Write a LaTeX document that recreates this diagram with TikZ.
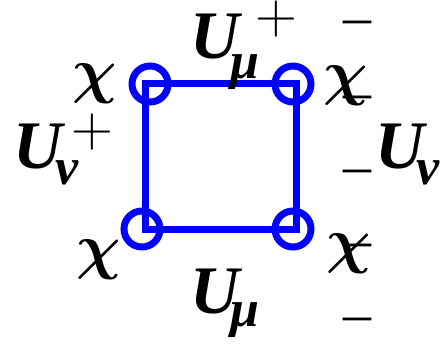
\documentclass[tikz,border=0pt]{standalone}
\usepackage{fix-cm}
\usepackage{fontspec}
\setmainfont{Liberation Serif}

\begin{document}
\begin{tikzpicture}[x=1pt,y=-1pt,
  link/.style={draw=blue,line width=7pt,line join=miter},
  site/.style={circle,draw=blue,line width=7pt,minimum size=36pt,inner sep=0pt},
  bigU/.style={inner sep=0pt,font=\fontsize{68}{68}\selectfont\bfseries\itshape},
  idx/.style={inner sep=0pt,font=\fontsize{52}{52}\selectfont\bfseries\itshape},
  chi/.style={inner sep=0pt,font=\fontsize{62}{62}\selectfont\boldmath},
  sgn/.style={inner sep=0pt,font=\fontsize{58}{58}\selectfont},
  dsh/.style={inner sep=0pt,font=\fontsize{56}{56}\selectfont}]
  \useasboundingbox (0,0) rectangle (444,343);

  % corners of the plaquette
  \coordinate (tl) at (145,83);
  \coordinate (tr) at (296,83);
  \coordinate (br) at (296,229);
  \coordinate (bl) at (145,229);
  \draw[link] (tl) -- (tr) -- (br) -- (bl) -- cycle;

  \node[site] (stl) at (150,84) {};
  \node[site] (str) at (293,84) {};
  \node[site] (sbl) at (142,229) {};
  \node[site] (sbr) at (293,229) {};

  % fields on the sites
  \node[chi] (xtl) at (95,84) {$\chi$};
  \node[chi] (xbl) at (99,260) {$\chi$};
  \node[chi] (xtr) at (346,86) {$\chi$};
  \node[chi] (xbr) at (349,254) {$\chi$};

  % links
  \node[bigU] (utop) at (215,37) {U};
  \node[idx] (mutop) at (245,72) {μ};
  \node[sgn] (ptop) at (276,19) {$+$};

  \node[bigU] (uleft) at (38,147) {U};
  \node[idx] (nuleft) at (67,173) {ν};
  \node[sgn] (pleft) at (92,132) {$+$};

  \node[bigU] (uright) at (400,147) {U};
  \node[idx] (nuright) at (428,173) {ν};

  \node[bigU] (ubot) at (215,292) {U};
  \node[idx] (mubot) at (245,320) {μ};

  % stray bars
  \foreach \y [count=\i] in {28,103,177,251,325}
    \node[dsh] (bar\i) at (357,\y) {–};
\end{tikzpicture}
\end{document}
